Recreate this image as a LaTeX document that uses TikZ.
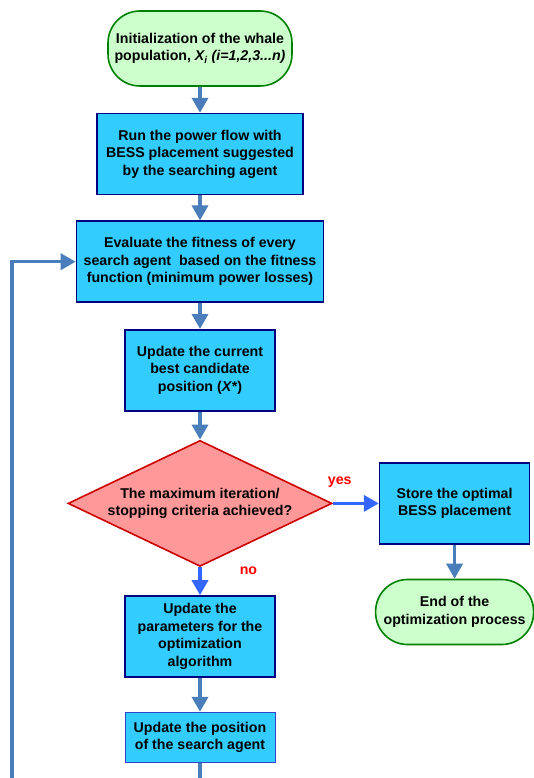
\documentclass[tikz,border=0pt]{standalone}
\usepackage{fontspec}
\setmainfont{Liberation Sans}
\usetikzlibrary{arrows.meta, positioning, shapes.geometric}
\definecolor{boxfill}{HTML}{33CCFF}
\definecolor{boxline}{HTML}{000080}
\definecolor{boxlinelight}{HTML}{3344CC}
\definecolor{termfill}{HTML}{CCFFCC}
\definecolor{termline}{HTML}{008000}
\definecolor{decfill}{HTML}{FF9999}
\definecolor{decline}{HTML}{CC0000}
\definecolor{flowblue}{HTML}{4A7EBB}
\definecolor{ansblue}{HTML}{3366FF}
\tikzset{
  box/.style={draw=boxline, line width=1.6pt, fill=boxfill, minimum width=150pt, minimum height=81pt, align=center, inner sep=2pt},
  term/.style={draw=termline, line width=1.6pt, fill=termfill, rounded corners=32pt, minimum height=75pt, align=center, inner sep=2pt},
  dec/.style={diamond, draw=decline, line width=1.6pt, fill=decfill, shape aspect=2.1, inner sep=0pt, minimum width=264pt, minimum height=126pt, align=center},
  arr/.style={-{Triangle[length=15pt, width=16pt]}, line width=3.5pt, draw=flowblue},
  ansarr/.style={arr, draw=ansblue},
  lbl/.style={text=red, inner sep=0pt},
}
\begin{document}
\begin{tikzpicture}[node distance=26pt, font=\fontsize{14.2}{17.5}\selectfont\bfseries]
  \useasboundingbox (0,0) rectangle (533pt,-778pt);
  \node[term, minimum width=184pt] (init) at (200pt,-48.5pt) {Initialization of the whale\\population, \textit{X\textsubscript{i} (i=1,2,3...n)}};
  \node[box, minimum width=206pt, below=of init] (run) {Run the power flow with\\BESS placement suggested\\by the searching agent};
  \node[box, minimum width=247pt, below=25pt of run] (eval) {Evaluate the fitness of every\\search agent\ \ based on the fitness\\function (minimum power losses)};
  \node[box, below=of eval] (best) {Update the current\\best candidate\\position (\textit{X*})};
  \node[dec, below=28pt of best] (check) {The maximum iteration/\\stopping criteria achieved?};
  \node[box, below=28pt of check] (param) {Update the\\parameters for the\\optimization\\algorithm};
  \node[box, draw=boxlinelight, line width=1pt, minimum height=50pt, below=34pt of param] (pos) {Update the position\\of the search agent};
  \node[box, right=46pt of check] (store) {Store the optimal\\BESS placement};
  \node[term, minimum width=158pt, minimum height=65pt, below=34pt of store] (finish) {End of the\\optimization process};
  \coordinate (loopturn) at (12pt,-800pt);
  \draw[arr] (init) -- (run);
  \draw[arr] (run) -- (eval);
  \draw[arr] (eval) -- (best);
  \draw[arr] (best) -- (check);
  \draw[ansarr] (check) -- node[lbl, pos=0.15, above=14pt] {yes} (store);
  \draw[ansarr] (check) -- node[lbl, pos=0.12, right=38pt] {no} (param);
  \draw[arr] (store) -- (finish);
  \draw[arr] (param) -- (pos);
  \draw[arr] (pos.south) |- (loopturn) |- (eval.west);
\end{tikzpicture}
\end{document}
